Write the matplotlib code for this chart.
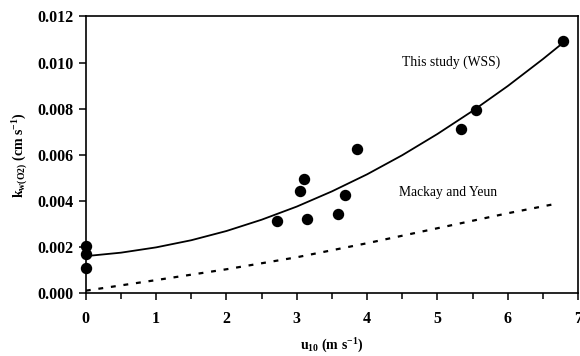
import numpy as np
import matplotlib.pyplot as plt
from matplotlib.ticker import MultipleLocator, FormatStrFormatter

# measured points (WSS)
u10_obs = [0, 0, 0, 2.72, 3.04, 3.10, 3.15, 3.58, 3.68, 3.85, 5.33, 5.55, 6.79]
kw_obs = [0.00205, 0.00168, 0.00110, 0.00312, 0.00443, 0.00495, 0.00321,
          0.00343, 0.00425, 0.00625, 0.00712, 0.00792, 0.01094]

# fitted curve, this study
u10_fit = [0, 0.5, 1, 1.5, 2, 2.5, 3, 3.5, 4, 4.5, 5, 5.5, 6, 6.5, 6.8]
kw_fit = [0.00160, 0.00175, 0.00198, 0.00229, 0.00269, 0.00318, 0.00375,
          0.00441, 0.00515, 0.00598, 0.00690, 0.00790, 0.00898, 0.01015, 0.01089]

# Mackay and Yeun
u10_my = [0, 1, 2, 3, 4, 5, 6, 6.7]
kw_my = [0.00010, 0.00056, 0.00103, 0.00155, 0.00216, 0.00281, 0.00346, 0.00388]

plt.rcParams['font.family'] = ['Liberation Serif', 'DejaVu Serif']
plt.rcParams['mathtext.fontset'] = 'custom'
plt.rcParams['mathtext.rm'] = 'Liberation Serif:bold'
plt.rcParams['mathtext.bf'] = 'Liberation Serif:bold'
plt.rcParams['mathtext.it'] = 'Liberation Serif:bold:italic'
plt.rcParams['mathtext.default'] = 'rm'

fig = plt.figure(figsize=(5.8, 3.56), dpi=100)
ax = fig.add_axes([0.148, 0.177, 0.8486, 0.7767])

ax.plot(u10_fit, kw_fit, color='black', lw=1.3)
ax.plot(u10_my, kw_my, color='black', lw=1.6, ls=(0, (2.2, 3.5)))
ax.plot(u10_obs, kw_obs, 'o', color='black', ms=7.2, clip_on=False, zorder=5)

ax.text(5.2, 0.01003, 'This study (WSS)', ha='center', va='center', fontsize=9.8)
ax.text(5.15, 0.00435, 'Mackay and Yeun', ha='center', va='center', fontsize=9.8)

ax.set_xlim(0, 7)
ax.set_ylim(0, 0.012)
ax.xaxis.set_major_locator(MultipleLocator(1))
ax.xaxis.set_minor_locator(MultipleLocator(0.5))
ax.yaxis.set_major_locator(MultipleLocator(0.002))
ax.yaxis.set_major_formatter(FormatStrFormatter('%.3f'))
ax.tick_params(which='both', direction='out', top=False, right=False, width=1.1)
ax.tick_params(which='major', length=5, labelsize=11.5)
ax.tick_params(axis='x', which='major', pad=8)
ax.tick_params(axis='y', which='major', pad=4)
ax.tick_params(which='minor', length=4)
for lab in ax.get_xticklabels() + ax.get_yticklabels():
    lab.set_fontweight('bold')
for sp in ax.spines.values():
    sp.set_linewidth(1.2)

ax.set_xlabel(r'u$_{10}$ (m s$^{-1}$)', fontsize=10, fontweight='bold', labelpad=7)
ax.set_ylabel(r'k$_{w(O2)}$ (cm s$^{-1}$)', fontsize=10, fontweight='bold', labelpad=5)

fig.savefig('out.png', dpi=100)
